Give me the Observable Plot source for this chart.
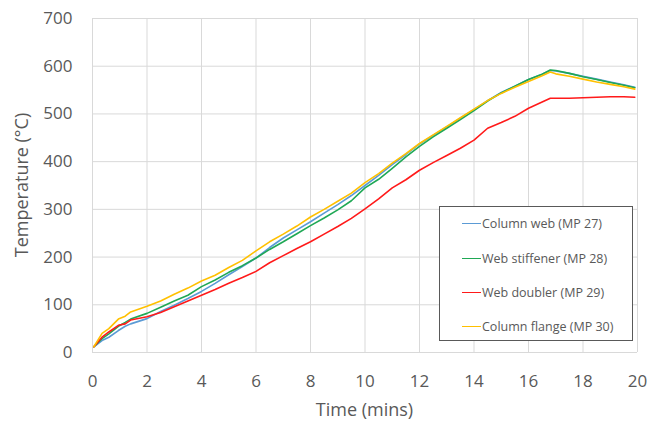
<!DOCTYPE html>
<html>
<head>
<meta charset="utf-8">
<script src="https://cdn.jsdelivr.net/npm/d3@7"></script>
<script src="https://cdn.jsdelivr.net/npm/@observablehq/plot@0.6"></script>
<style>
  html, body { margin: 0; padding: 0; background: #fff; }
  #wrap { position: relative; width: 660px; height: 422px; font-family: "Open Sans", sans-serif; }
  #legend { position: absolute; left: 439px; top: 206px; width: 194px; height: 135px; border: 1px solid #595959; background: #fff; box-sizing: border-box; }
  .item { position: absolute; left: 22px; display: flex; align-items: center; font-size: 12.5px; color: #595959; white-space: nowrap; }
  .swatch { width: 19px; height: 0; border-top: 1.5px solid; margin-right: 1px; }
</style>
</head>
<body>
<div id="wrap"></div>
<script>
const seriesNames = ["Column web (MP 27)", "Web stiffener (MP 28)", "Web doubler (MP 29)", "Column flange (MP 30)"];
const seriesColors = ["#5B9BD5", "#1FA855", "#FF1A1A", "#FFC000"];
const times = [0.05,0.35,0.6,0.95,1.2,1.4,2,2.5,3,3.5,4,4.5,5,5.5,6,6.5,7,7.5,8,8.5,9,9.5,10,10.5,11,11.5,12,12.5,13,13.5,14,14.5,15,15.5,16,16.5,16.8,17,17.5,18,18.5,19,19.5,19.9];
const columnWeb = [12,25,32,46,55,60,71,86,99,113,128,145,163,180,198,220,240,257,274,292,310,329,350,371,394,415,437,455,473,491,509,528,545,558,572,583,591,590,585,579,573,567,561,556];
const webStiffener = [12,29,39,55,63,70,82,95,108,120,138,152,168,182,198,216,232,249,266,282,299,318,345,363,386,410,432,452,470,488,507,527,544,558,572,583,592,591,585,578,572,566,560,555];
const webDoubler = [12,32,43,57,60,68,75,84,96,108,120,132,145,157,170,188,203,218,232,248,264,281,301,322,345,362,382,398,413,428,445,470,482,495,512,525,533,533,533,534,535,536,536,535];
const columnFlange = [12,40,50,70,76,85,97,108,122,135,150,162,178,193,213,232,248,265,284,300,317,334,356,375,397,417,438,456,474,492,510,528,543,556,568,580,588,584,579,573,567,562,557,552];
const xTicks = [0,2,4,6,8,10,12,14,16,18,20];
const yTicks = [0,100,200,300,400,500,600,700];
const xTitle = "Time (mins)";
const yTitle = "Temperature (°C)";

const allValues = [columnWeb, webStiffener, webDoubler, columnFlange];
const data = [];
allValues.forEach((vals, si) => {
  vals.forEach((v, i) => data.push({series: seriesNames[si], t: times[i], T: v}));
});

const W = 660, H = 422, mL = 92, mR = 23, mT = 18, mB = 70;
const chart = Plot.plot({
  width: W, height: H,
  marginLeft: mL, marginRight: mR, marginTop: mT, marginBottom: mB,
  style: {fontFamily: "'Open Sans', sans-serif", fontSize: "17px", color: "#595959", background: "#fff"},
  x: {domain: [0, 20]},
  y: {domain: [0, 700]},
  color: {domain: seriesNames, range: seriesColors},
  marks: [
    Plot.gridX(xTicks, {stroke: "#d9d9d9", strokeOpacity: 1, strokeWidth: 1}),
    Plot.gridY(yTicks, {stroke: "#d9d9d9", strokeOpacity: 1, strokeWidth: 1}),
    Plot.axisX(xTicks, {tickSize: 0, tickPadding: 22, label: null, fontSize: 17}),
    Plot.axisY(yTicks, {tickSize: 0, tickPadding: 20, label: null, fontSize: 17}),
    Plot.line(data, {x: "t", y: "T", z: "series", stroke: "series", strokeWidth: 1.6, curve: "linear"})
  ]
});
const wrap = document.getElementById("wrap");
wrap.appendChild(chart);

const svg = d3.select(chart);
svg.append("text")
  .attr("x", (mL + W - mR) / 2).attr("y", 416)
  .attr("text-anchor", "middle").attr("fill", "#595959")
  .style("font-size", "18px").text(xTitle);
svg.append("text")
  .attr("transform", `translate(28,${(mT + H - mB) / 2}) rotate(-90)`)
  .attr("text-anchor", "middle").attr("fill", "#595959")
  .style("font-size", "18px").text(yTitle);

const legend = document.createElement("div");
legend.id = "legend";
const rowsY = [17, 52, 86, 120];
seriesNames.forEach((name, i) => {
  const item = document.createElement("div");
  item.className = "item";
  item.style.top = (rowsY[i] - 9) + "px";
  const sw = document.createElement("span");
  sw.className = "swatch";
  sw.style.borderColor = seriesColors[i];
  const label = document.createElement("span");
  label.textContent = name;
  item.appendChild(sw);
  item.appendChild(label);
  legend.appendChild(item);
});
wrap.appendChild(legend);
</script>
</body>
</html>
